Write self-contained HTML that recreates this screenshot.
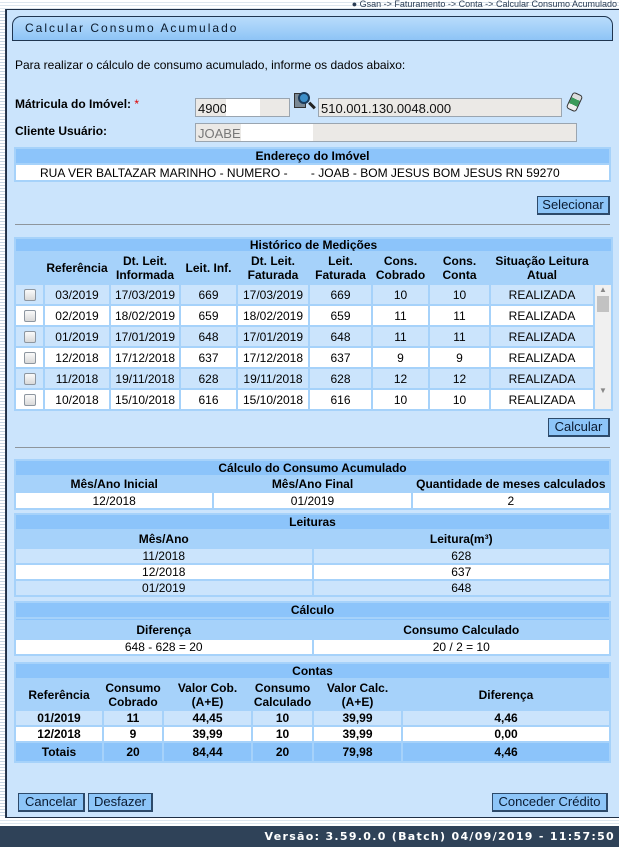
<!DOCTYPE html>
<html><head><meta charset="utf-8"><style>
*{margin:0;padding:0;box-sizing:border-box}
body{width:619px;height:847px;position:relative;overflow:hidden;background:#fff;font-family:"Liberation Sans",Arial,sans-serif;font-size:12px;color:#000}
.a{position:absolute}
.stripe{background:repeating-linear-gradient(#fff 0,#fff 2px,#dde6ee 2px,#dde6ee 3px)}
.vstripe{background:repeating-linear-gradient(#fff 0,#fff 2px,#c9d6e2 2px,#c9d6e2 3px)}
#panel{left:6px;top:9px;width:613px;height:809px;background:#cbe4fc;border:1px solid #1f2f45;border-right:none}
.title{left:12px;top:16px;width:601px;height:25px;border:1px solid #1f3550;border-radius:9px 9px 0 0;background:linear-gradient(#b9dcfb,#8ec4f6);font-size:12px;letter-spacing:2px;padding:4px 0 0 12px;color:#0b1a2c}
.inp{background:#ebe9e6;border:1px solid #9aa5b0;height:19px;padding:2px 2px;font-size:13px;color:#111}
.btn{background:#8dc5f8;border:1px solid #2d4a6a;border-right:2px solid #2d4a6a;border-bottom:2px solid #2d4a6a;height:19px;font-size:13px;text-align:center;line-height:16px;color:#0a1a30}
.hr{height:1px;background:#8e959c;left:15px;width:595px}
table{border-collapse:separate;border-spacing:2px;background:#a6d2fa;position:absolute;table-layout:fixed}
td{text-align:center;padding:0;font-size:12px;white-space:nowrap;overflow:hidden}
.h{background:#8cc4fa;font-weight:bold}
.hd{font-weight:bold}
.w{background:#fff}
.l{background:#cbe4fc}
.cb{display:inline-block;width:12px;height:12px;border:1px solid #8d96a0;border-radius:2px;background:linear-gradient(#fafafa,#d9d9d9);vertical-align:middle}
</style></head><body>
<div class="a stripe" style="left:0;top:0;width:619px;height:9px"></div>
<div class="a" style="right:2px;top:-1px;font-size:9px;color:#2c3e55">● Gsan -&gt; Faturamento -&gt; Conta -&gt; Calcular Consumo Acumulado</div>
<div class="a vstripe" style="left:0;top:9px;width:6px;height:809px;border-right:1px solid #2a3a50"></div>
<div class="a" id="panel"></div>
<div class="a title">Calcular Consumo Acumulado</div>
<div class="a" style="left:15px;top:58px;font-size:12px">Para realizar o cálculo de consumo acumulado, informe os dados abaixo:</div>
<div class="a" style="left:15px;top:97px;font-weight:bold">Mátricula do Imóvel: <span style="color:#d00;font-weight:normal">*</span></div>
<div class="a inp" style="left:195px;top:98px;width:95px">4900</div>
<div class="a" style="left:226px;top:99px;width:34px;height:17px;background:#fff"></div>
<div class="a" style="left:294px;top:93px;width:12px;height:15px;background:#7a8894;border:1px solid #333"></div>
<div class="a" style="left:298px;top:92px;width:12px;height:12px;border-radius:50%;background:#3d8fc9;border:2px solid #1a3b5c"></div>
<div class="a" style="left:308px;top:104px;width:8px;height:3px;background:#222;transform:rotate(45deg)"></div>
<div class="a inp" style="left:318px;top:98px;width:244px">510.001.130.0048.000</div>
<div class="a" style="left:569px;top:93px;width:11px;height:18px;border-radius:3px;background:linear-gradient(#ddd 30%,#3a9a5a 30%,#3a9a5a 70%,#eee 70%);border:1px solid #333;transform:rotate(25deg)"></div>
<div class="a" style="left:15px;top:124px;font-weight:bold">Cliente Usuário:</div>
<div class="a inp" style="left:195px;top:123px;width:382px;color:#777">JOABE</div>
<div class="a" style="left:241px;top:124px;width:72px;height:17px;background:#fff"></div>

<table style="left:14px;top:147px;width:597px"><tr><td class="h" style="height:14px">Endereço do Imóvel</td></tr>
<tr><td class="w" style="height:15px;text-align:left;padding-left:24px">RUA VER BALTAZAR MARINHO - NUMERO - &nbsp; &nbsp; &nbsp; - JOAB - BOM JESUS BOM JESUS RN 59270</td></tr></table>

<div class="a btn" style="left:537px;top:196px;width:73px">Selecionar</div>
<div class="a hr" style="top:224px"></div>

<table style="left:14px;top:237px;width:597px">
<colgroup><col style="width:27px"><col style="width:64px"><col style="width:68px"><col style="width:55px"><col style="width:70px"><col style="width:61px"><col style="width:55px"><col style="width:59px"><col style="width:102px"><col style="width:16px"></colgroup>
<tr><td class="h" colspan="10" style="height:12px;line-height:12px">Histórico de Medições</td></tr>
<tr class="hd"><td class="hd" style="height:30px"></td><td class="hd">Referência</td><td class="hd">Dt. Leit.<br>Informada</td><td class="hd">Leit. Inf.</td><td class="hd">Dt. Leit.<br>Faturada</td><td class="hd">Leit.<br>Faturada</td><td class="hd">Cons.<br>Cobrado</td><td class="hd">Cons.<br>Conta</td><td class="hd">Situação Leitura<br>Atual</td><td></td></tr>
<tr class="l"><td style="height:19px"><span class="cb"></span></td><td>03/2019</td><td>17/03/2019</td><td>669</td><td>17/03/2019</td><td>669</td><td>10</td><td>10</td><td>REALIZADA</td><td rowspan="6" style="background:#f0f0f0;vertical-align:top;font-size:8px;color:#888">▲<div style="height:16px;margin:2px 2px;background:#c2c2c2"></div><div style="height:72px"></div>▼</td></tr>
<tr class="w"><td style="height:19px"><span class="cb"></span></td><td>02/2019</td><td>18/02/2019</td><td>659</td><td>18/02/2019</td><td>659</td><td>11</td><td>11</td><td>REALIZADA</td></tr>
<tr class="l"><td style="height:19px"><span class="cb"></span></td><td>01/2019</td><td>17/01/2019</td><td>648</td><td>17/01/2019</td><td>648</td><td>11</td><td>11</td><td>REALIZADA</td></tr>
<tr class="w"><td style="height:19px"><span class="cb"></span></td><td>12/2018</td><td>17/12/2018</td><td>637</td><td>17/12/2018</td><td>637</td><td>9</td><td>9</td><td>REALIZADA</td></tr>
<tr class="l"><td style="height:19px"><span class="cb"></span></td><td>11/2018</td><td>19/11/2018</td><td>628</td><td>19/11/2018</td><td>628</td><td>12</td><td>12</td><td>REALIZADA</td></tr>
<tr class="w"><td style="height:19px"><span class="cb"></span></td><td>10/2018</td><td>15/10/2018</td><td>616</td><td>15/10/2018</td><td>616</td><td>10</td><td>10</td><td>REALIZADA</td></tr>
</table>

<div class="a btn" style="left:548px;top:418px;width:62px">Calcular</div>
<div class="a hr" style="top:447px"></div>

<table style="left:14px;top:459px;width:597px">
<tr><td class="h" colspan="3" style="height:13px">Cálculo do Consumo Acumulado</td></tr>
<tr><td class="hd" style="height:14px">Mês/Ano Inicial</td><td class="hd">Mês/Ano Final</td><td class="hd">Quantidade de meses calculados</td></tr>
<tr class="w"><td style="height:15px">12/2018</td><td>01/2019</td><td>2</td></tr></table>

<table style="left:14px;top:513px;width:597px">
<tr><td class="h" colspan="2" style="height:13px">Leituras</td></tr>
<tr><td class="hd" style="height:16px">Mês/Ano</td><td class="hd">Leitura(m³)</td></tr>
<tr class="l"><td style="height:14px">11/2018</td><td>628</td></tr>
<tr class="w"><td style="height:14px">12/2018</td><td>637</td></tr>
<tr class="l"><td style="height:14px">01/2019</td><td>648</td></tr></table>

<table style="left:14px;top:601px;width:597px">
<tr><td class="h" colspan="2" style="height:13px">Cálculo</td></tr>
<tr><td class="h" colspan="2" style="height:1px;font-size:1px"></td></tr>
<tr><td class="hd" style="height:16px">Diferença</td><td class="hd">Consumo Calculado</td></tr>
<tr class="w"><td style="height:14px">648 - 628 = 20</td><td>20 / 2 = 10</td></tr></table>

<table style="left:14px;top:662px;width:597px">
<colgroup><col style="width:86px"><col style="width:58px"><col style="width:87px"><col style="width:59px"><col style="width:87px"><col></colgroup>
<tr><td class="h" colspan="6" style="height:14px">Contas</td></tr>
<tr><td class="hd" style="height:29px">Referência</td><td class="hd">Consumo<br>Cobrado</td><td class="hd">Valor Cob.<br>(A+E)</td><td class="hd">Consumo<br>Calculado</td><td class="hd">Valor Calc.<br>(A+E)</td><td class="hd">Diferença</td></tr>
<tr class="l" style="font-weight:bold"><td class="hd" style="height:14px">01/2019</td><td class="hd">11</td><td class="hd">44,45</td><td class="hd">10</td><td class="hd">39,99</td><td class="hd">4,46</td></tr>
<tr class="w"><td class="hd" style="height:14px">12/2018</td><td class="hd">9</td><td class="hd">39,99</td><td class="hd">10</td><td class="hd">39,99</td><td class="hd">0,00</td></tr>
<tr class="h"><td class="h" style="height:18px">Totais</td><td class="h">20</td><td class="h">84,44</td><td class="h">20</td><td class="h">79,98</td><td class="h">4,46</td></tr></table>

<div class="a btn" style="left:18px;top:793px;width:67px">Cancelar</div>
<div class="a btn" style="left:88px;top:793px;width:65px">Desfazer</div>
<div class="a btn" style="left:492px;top:793px;width:116px">Conceder Crédito</div>

<div class="a stripe" style="left:0;top:818px;width:619px;height:8px"></div>
<div class="a" style="left:0;top:826px;width:619px;height:21px;background:#2f4258"></div>
<div class="a" style="right:4px;top:830px;color:#fff;font-weight:bold;font-size:11px;letter-spacing:1.3px;font-family:'DejaVu Sans',sans-serif">Versão: 3.59.0.0 (Batch) 04/09/2019 - 11:57:50</div>
</body></html>
